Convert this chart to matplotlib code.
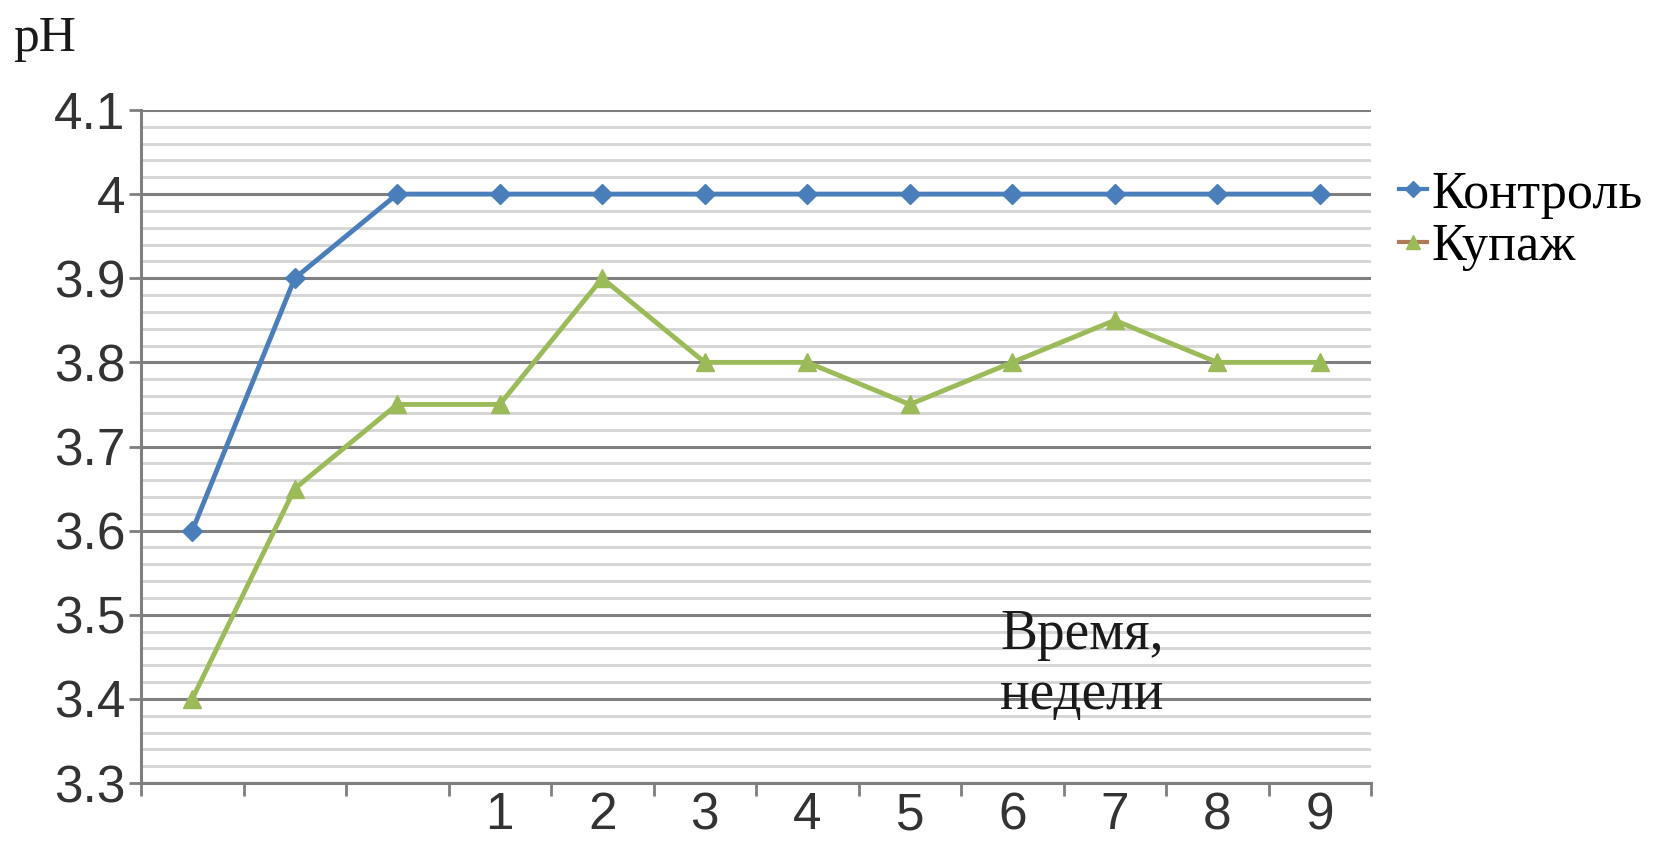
import matplotlib.pyplot as plt
from matplotlib.lines import Line2D
from matplotlib.ticker import MultipleLocator

# категории по оси X: три начальные точки без подписи, затем недели 1..9
weeks = ["", "", "", "1", "2", "3", "4", "5", "6", "7", "8", "9"]
control = [3.6, 3.9, 4.0, 4.0, 4.0, 4.0, 4.0, 4.0, 4.0, 4.0, 4.0, 4.0]
blend = [3.4, 3.65, 3.75, 3.75, 3.9, 3.8, 3.8, 3.75, 3.8, 3.85, 3.8, 3.8]

BLUE = "#4a7ebb"
GREEN = "#9bbb59"

fig = plt.figure(figsize=(16.57, 8.42), dpi=100)
ax = fig.add_axes([0.0851, 0.070, 0.7423, 0.7994])

x = list(range(len(weeks)))
ax.plot(x, control, color=BLUE, lw=3.5, marker="D", ms=10, zorder=3)
ax.plot(x, blend, color=GREEN, lw=3.5, marker="^", ms=13, zorder=3)

ax.set_xlim(-0.5, len(weeks) - 0.5)
ax.set_ylim(3.3, 4.1)

# сетка: основные линии через 0.1, вспомогательные через 0.02
ax.yaxis.set_major_locator(MultipleLocator(0.1))
ax.yaxis.set_minor_locator(MultipleLocator(0.02))
ax.grid(which="major", axis="y", color="#7f7f7f", lw=2.2, zorder=1)
ax.grid(which="minor", axis="y", color="#d4d4d4", lw=2.0, zorder=0)
ax.set_yticks([3.3, 3.4, 3.5, 3.6, 3.7, 3.8, 3.9, 4.0, 4.1])
ax.set_yticklabels(["3.3", "3.4", "3.5", "3.6", "3.7", "3.8", "3.9", "4", "4.1"],
                   fontsize=37, family="Liberation Sans", color="#333333")
ax.tick_params(axis="y", which="minor", length=0)
ax.tick_params(axis="y", which="major", length=9, width=2, color="#7f7f7f", pad=2)

# подписи недель по центрам категорий, засечки на границах
ax.set_xticks(x)
ax.set_xticklabels(weeks, fontsize=37, family="Liberation Sans", color="#333333")
ax.tick_params(axis="x", which="major", length=0, pad=6)
ax.set_xticks([i - 0.5 for i in range(len(weeks) + 1)], minor=True)
ax.tick_params(axis="x", which="minor", length=9, width=2, color="#7f7f7f")

for side in ["top", "right"]:
    ax.spines[side].set_visible(False)
for side in ["left", "bottom"]:
    ax.spines[side].set_color("#7f7f7f")
    ax.spines[side].set_linewidth(2.2)

fig.text(0.008, 0.94, "pH", fontsize=37, family="Liberation Serif", color="#1a1a1a")
ax.text(7.88, 3.44, "Время,\nнедели", fontsize=40, family="Liberation Serif",
        color="#1a1a1a", linespacing=1.2, va="center", ha="left")

handles = [
    Line2D([], [], color=BLUE, lw=3, marker="D", ms=8),
    Line2D([], [], color="#b07a5a", lw=3, marker="^", ms=10,
           markerfacecolor=GREEN, markeredgecolor=GREEN),
]
fig.legend(handles, ["Контроль", "Купаж"], loc="upper left",
           bbox_to_anchor=(0.8315, 0.822), frameon=False, handlelength=0.55,
           handletextpad=0.08, labelspacing=0.08, borderaxespad=0,
           prop={"family": "Liberation Serif", "size": 37.5})

fig.savefig("out.png", dpi=100, facecolor="white")
